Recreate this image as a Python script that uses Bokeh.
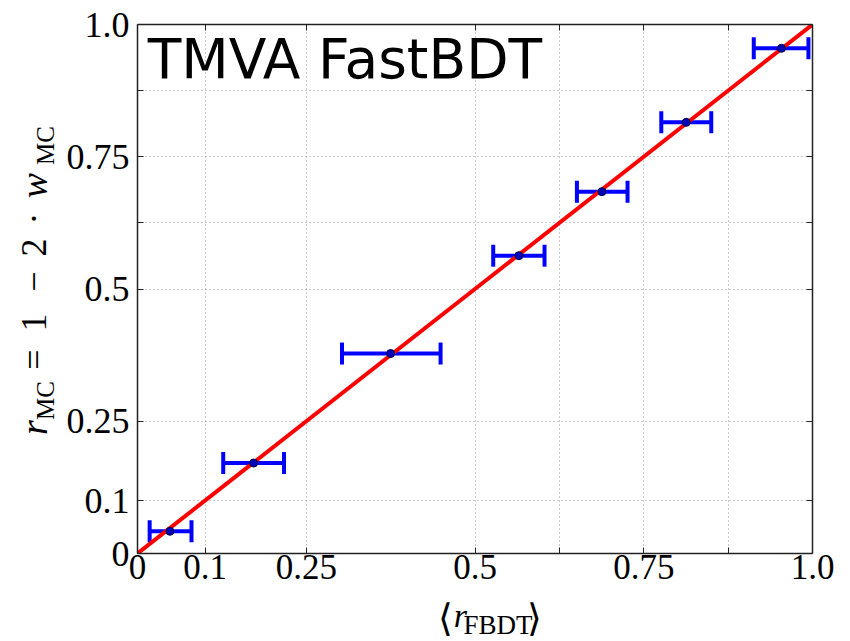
import math
from bokeh.plotting import figure
from bokeh.models import (ColumnDataSource, Whisker, TeeHead, FixedTicker,
                          LinearAxis, Label, Range1d)
from bokeh.layouts import row, column
from bokeh.embed import file_html
from bokeh.resources import INLINE

# ---- data ----
r_fbdt = [0.048, 0.172, 0.375, 0.565, 0.688, 0.813, 0.954]
r_mc = [0.042, 0.171, 0.378, 0.563, 0.684, 0.815, 0.955]
x_lo = [0.018, 0.127, 0.303, 0.527, 0.651, 0.776, 0.913]
x_hi = [0.080, 0.217, 0.449, 0.603, 0.726, 0.850, 0.994]
diag_x = [0.0, 1.0]
diag_y = [0.0, 1.0]
labeled_ticks = [0.0, 0.1, 0.25, 0.5, 0.75, 1.0]
tick_text = ["0", "0.1", "0.25", "0.5", "0.75", "1.0"]
unlabeled_ticks = [0.625, 0.875]
all_ticks = [0.0, 0.1, 0.25, 0.5, 0.625, 0.75, 0.875, 1.0]
title_text = "TMVA FastBDT"

W, H = 850, 641
YLW = 60            # width of the strip holding the y label
XLH = 47            # height of the strip holding the x label
MW, MH = W - YLW, H - XLH
L, R, T = 137 - YLW, 38, 24
B = MH - T - 529

SERIF = "Liberation Serif"
AX_COL = "#222222"

p = figure(width=MW, height=MH, output_backend="svg", toolbar_location=None,
           x_range=Range1d(0, 1), y_range=Range1d(0, 1),
           min_border_left=L, min_border_right=R, min_border_top=T,
           min_border_bottom=B, background_fill_color="white",
           border_fill_color="white")
p.outline_line_color = None

overrides = {v: t for v, t in zip(labeled_ticks, tick_text)}

def style_axis(ax, labels=True, size="36px"):
    if labels:
        ax.ticker = FixedTicker(ticks=labeled_ticks, minor_ticks=unlabeled_ticks)
        ax.major_label_overrides = overrides
        ax.major_label_text_font = SERIF
        ax.major_label_text_font_size = size
        ax.major_label_text_color = "black"
    else:
        ax.ticker = FixedTicker(ticks=[], minor_ticks=all_ticks)
    ax.axis_line_color = AX_COL
    ax.axis_line_width = 1.5
    ax.major_tick_line_color = AX_COL
    ax.major_tick_line_width = 1
    ax.major_tick_in = 6
    ax.major_tick_out = 0
    ax.minor_tick_line_color = AX_COL
    ax.minor_tick_line_width = 1
    ax.minor_tick_in = 6
    ax.minor_tick_out = 0

style_axis(p.xaxis[0], size="35px")
style_axis(p.yaxis[0], size="36px")
p.xaxis[0].major_label_standoff = 1
p.yaxis[0].major_label_standoff = 8
top_ax = LinearAxis()
right_ax = LinearAxis()
style_axis(top_ax, labels=False)
style_axis(right_ax, labels=False)
p.add_layout(top_ax, "above")
p.add_layout(right_ax, "right")

for g in (p.xgrid[0], p.ygrid[0]):
    g.ticker = FixedTicker(ticks=labeled_ticks, minor_ticks=unlabeled_ticks)
    g.grid_line_color = "#555555"
    g.grid_line_alpha = 0.6
    g.grid_line_dash = "1 3"
    g.grid_line_width = 1
    g.minor_grid_line_color = "#555555"
    g.minor_grid_line_alpha = 0.6
    g.minor_grid_line_dash = "1 3"
    g.minor_grid_line_width = 1

# red diagonal
p.line(diag_x, diag_y, line_color="#ff0000", line_width=4)

# error bars
src = ColumnDataSource(dict(x=r_fbdt, y=r_mc, lo=x_lo, hi=x_hi))
wh = Whisker(source=src, base="y", lower="lo", upper="hi", dimension="width",
             line_color="#0000ff", line_width=4,
             lower_head=TeeHead(size=22, line_color="#0000ff", line_width=4),
             upper_head=TeeHead(size=22, line_color="#0000ff", line_width=4))
p.add_layout(wh)
p.scatter("x", "y", source=src, size=8, fill_color="#0000bb",
          line_color="#000044", line_width=1)

# title inside the plot
p.add_layout(Label(x=0.015, y=0.995, text=title_text, text_font="DejaVu Sans",
                   text_font_size="55px", text_baseline="top",
                   text_align="left", text_color="black"))


def strip(w, h, x0, y0):
    f = figure(width=w, height=h, output_backend="svg", toolbar_location=None,
               x_range=Range1d(x0, x0 + w), y_range=Range1d(y0, y0 + h),
               x_axis_type=None, y_axis_type=None, min_border=0,
               background_fill_color="white", border_fill_color="white")
    f.outline_line_color = None
    f.grid.visible = False
    return f

# strips use page pixel coordinates (y measured upward from page bottom)
ylab = strip(YLW, H, 0, 0)
xlab = strip(MW, XLH, YLW, 0)

MID = 0.3375   # distance (in em) from baseline up to the middle of the text box


def hpiece(fig, cx, base_y, txt, size, style="normal", font=SERIF):
    """horizontal text, centred at cx, baseline at page row base_y"""
    fig.add_layout(Label(x=cx, y=H - (base_y - MID * size), text=txt,
                         text_font=font, text_font_size=f"{size}px",
                         text_font_style=style, text_align="center",
                         text_baseline="middle", text_color="black"))


def vpiece(fig, base_x, cy, txt, size, style="normal"):
    """text rotated 90 deg ccw, centred at page row cy, baseline at column base_x"""
    fig.add_layout(Label(x=base_x - MID * size, y=H - cy, text=txt,
                         text_font=SERIF, text_font_size=f"{size}px",
                         text_font_style=style, text_align="center",
                         text_baseline="middle", angle=math.pi / 2,
                         text_color="black"))

# x label:  <r_FBDT>
hpiece(xlab, 420, 630, "\u27e8", 38)
hpiece(xlab, 438, 626, "r", 34, "italic")
hpiece(xlab, 482, 634, "FBDT", 27)
hpiece(xlab, 525, 630, "\u27e9", 38)

# y label:  r_MC = 1 - 2 . w_MC  (rotated)
vpiece(ylab, 46, 427, "r", 38, "italic")
vpiece(ylab, 53, 400, "MC", 25)
vpiece(ylab, 46, 359, "=", 36)
vpiece(ylab, 46, 322, "1", 36)
vpiece(ylab, 46, 281, "\u2212", 36)
vpiece(ylab, 46, 247, "2", 36)
vpiece(ylab, 46, 218, "\u00b7", 36)
vpiece(ylab, 46, 185, "w", 38, "italic")
vpiece(ylab, 53, 145, "MC", 25)

layout = row(ylab, column(p, xlab, spacing=0), spacing=0)
open("out.html", "w").write(file_html(layout, INLINE))
